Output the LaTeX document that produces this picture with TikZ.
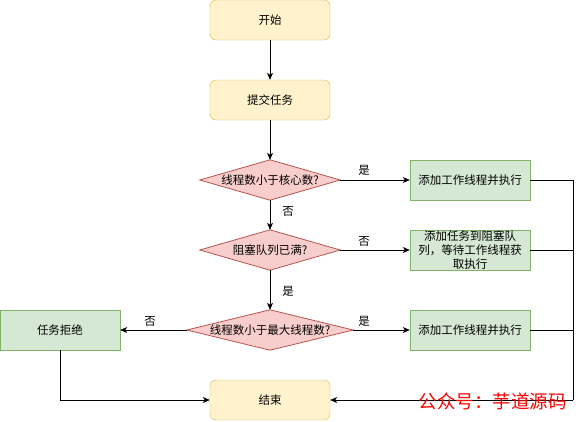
\documentclass[tikz,border=0pt]{standalone}
\usepackage{fontspec}
\setmainfont{Noto Sans CJK SC}
\usetikzlibrary{arrows.meta,backgrounds}
\definecolor{yfill}{HTML}{FFF2CC}
\definecolor{ydraw}{HTML}{D6B656}
\definecolor{gfill}{HTML}{D5E8D4}
\definecolor{gdraw}{HTML}{82B366}
\definecolor{rfill}{HTML}{F8CECC}
\definecolor{rdraw}{HTML}{B85450}
\begin{document}
\begin{tikzpicture}[x=1pt,y=-1pt,
  font=\fontsize{11.5pt}{14pt}\selectfont,
  ybox/.style={draw=ydraw,fill=yfill,rounded corners=6pt,minimum width=120pt,minimum height=40pt,inner sep=0pt},
  gbox/.style={draw=gdraw,fill=gfill,minimum width=120pt,minimum height=40pt,inner sep=0pt,align=center},
  dia/.style={minimum height=40pt,inner sep=0pt},
  dshape/.style={draw=rdraw,fill=rfill},
  arr/.style={draw,line width=0.8pt,-{Stealth[length=7pt,width=6pt,inset=2pt]}},
  ln/.style={draw,line width=0.8pt},
  lbl/.style={inner sep=0pt}]
\useasboundingbox (0,0) rectangle (579,421);
\node[ybox] (start) at (270,20) {开始};
\node[ybox] (submit) at (270,100) {提交任务};
\node[dia,minimum width=140pt] (d1) at (270,180) {线程数小于核心数?};
\node[dia,minimum width=140pt] (d2) at (270,250) {阻塞队列已满?};
\node[dia,minimum width=166pt] (d3) at (270,330) {线程数小于最大线程数?};
\begin{pgfonlayer}{background}
\foreach \d in {d1,d2,d3}
  \path[dshape,line width=0.8pt] (\d.west) -- (\d.north) -- (\d.east) -- (\d.south) -- cycle;
\end{pgfonlayer}
\node[gbox] (g1) at (470,180) {添加工作线程并执行};
\node[gbox] (g2) at (470,250) {添加任务到阻塞队\\列，等待工作线程获\\取执行};
\node[gbox] (g3) at (470,330) {添加工作线程并执行};
\node[gbox] (rej) at (60,330) {任务拒绝};
\node[ybox] (end) at (270,400) {结束};
\coordinate (rb) at (573,400);
\path[arr] (start) -- (submit);
\path[arr] (submit) -- (d1);
\path[arr] (d1) -- (d2);
\path[arr] (d2) -- (d3);
\path[arr] (d1.east) -- (g1.west);
\path[arr] (d2.east) -- (g2.west);
\path[arr] (d3.east) -- (g3.west);
\path[arr] (d3.west) -- (rej.east);
\path[ln] (g1.east) -| (rb);
\path[ln] (g2.east) -| (rb);
\path[ln] (g3.east) -| (rb);
\path[arr] (rb) -- (end.east);
\path[arr] (rej.south) |- (end.west);
\node[lbl] (l1) at (364,170) {是};
\node[lbl] (l2) at (288,211) {否};
\node[lbl] (l3) at (364,241) {否};
\node[lbl] (l4) at (288,291) {是};
\node[lbl] (l5) at (150,321) {否};
\node[lbl] (l6) at (364,321) {是};
\node[lbl,text=red,font=\fontsize{18.5pt}{20pt}\selectfont,anchor=east] (wm) at (567,401) {公众号：芋道源码};
\end{tikzpicture}
\end{document}
